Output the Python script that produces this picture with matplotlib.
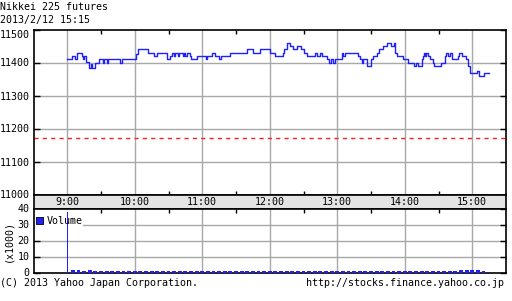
import matplotlib
matplotlib.use("Agg")
import matplotlib.pyplot as plt
from matplotlib.patches import Rectangle

# ---- data ----
title = "Nikkei 225 futures"
stamp = "2013/2/12 15:15"
# price change points: minutes after 9:00, price
price_minutes = [0, 4, 7, 9, 13, 14, 15, 17, 19, 21, 22, 25, 28, 32, 33, 35, 36, 47, 49,
                 61, 63, 72, 77, 80, 89, 91, 93, 95, 96, 98, 99, 103, 104, 105, 106, 109, 110,
                 115, 123, 124, 129, 131, 135, 137, 145, 160, 165, 171, 180, 185,
                 192, 193, 195, 198, 201, 204, 208, 210, 213, 220, 222, 225, 226, 231, 233, 234,
                 236, 238, 244, 245, 247, 258, 260, 262, 263, 266, 270, 272, 275, 277, 281, 284,
                 288, 290, 291, 293, 298, 303, 308, 310, 312, 315, 316, 317, 318, 319, 321, 322,
                 325, 326, 332, 336, 337, 338, 340, 342, 347, 348, 351, 354, 356, 358, 364, 366,
                 370, 375]
prices = [11412, 11420, 11412, 11428, 11420, 11412, 11420, 11402, 11382, 11395, 11382, 11397,
          11410, 11398, 11410, 11398, 11410, 11398, 11410,
          11425, 11440, 11428, 11420, 11428, 11412, 11420, 11428, 11420, 11428, 11420, 11428,
          11420, 11428, 11420, 11428, 11420, 11410,
          11420, 11410, 11420, 11428, 11420, 11410, 11420, 11428, 11441, 11428, 11441, 11428, 11420,
          11429, 11441, 11459, 11450, 11441, 11450, 11441, 11429, 11420, 11429, 11420, 11429,
          11420, 11410, 11400, 11410,
          11400, 11410, 11429, 11420, 11429, 11420, 11410, 11400, 11410, 11390, 11410, 11420,
          11429, 11441, 11450, 11459,
          11450, 11459, 11429, 11420, 11410, 11400, 11390, 11400, 11390, 11410, 11420, 11429,
          11420, 11429, 11420, 11410,
          11400, 11390, 11400, 11420, 11429, 11420, 11429, 11410, 11420, 11429, 11420, 11410,
          11390, 11367, 11375, 11360,
          11367, 11367]
prev_close = 11170
# volume (x1000): opening plus 5-minute buckets
open_volume = 38
vol_minutes = [5, 10, 15, 20, 25, 30, 35, 40, 45, 50, 55, 60, 65, 70, 75, 80, 85, 90, 95, 100,
               105, 110, 115, 120, 125, 130, 135, 140, 145, 150, 155, 160, 165, 170, 175, 180,
               185, 190, 195, 200, 205, 210, 215, 220, 225, 230, 235, 240, 245, 250, 255, 260,
               265, 270, 275, 280, 285, 290, 295, 300, 305, 310, 315, 320, 325, 330, 335, 340,
               345, 350, 355, 360, 365, 370]
volumes = [1.4, 1.3, 1.2, 1.3, 1.1, 1.2, 1.1, 1.0, 1.1, 1.0, 1.1, 1.2, 1.1, 1.0, 1.0, 1.1,
           1.0, 0.9, 1.0, 1.0, 0.9, 1.0, 0.9, 1.0, 0.9, 0.9, 1.0, 0.9, 1.0, 0.9, 1.0, 1.0,
           0.9, 1.0, 0.9, 1.0, 1.0, 1.1, 1.0, 1.0, 0.9, 1.0, 0.9, 1.0, 1.0, 0.9, 1.0, 1.0,
           0.9, 1.0, 1.0, 0.9, 1.0, 1.0, 1.1, 1.0, 1.0, 1.1, 1.0, 1.0, 1.1, 1.0, 1.1, 1.1,
           1.0, 1.1, 1.2, 1.1, 1.2, 1.3, 1.3, 1.4, 1.3, 1.2]
hour_labels = ["9:00", "10:00", "11:00", "12:00", "13:00", "14:00", "15:00"]
hour_minutes = [0, 60, 120, 180, 240, 300, 360]
price_ticks = [11000, 11100, 11200, 11300, 11400, 11500]
vol_ticks = [0, 10, 20, 30, 40]

# ---- style ----
W, H = 512, 301
FONT = "DejaVu Sans Mono"
FS = 7.2
BLUE = "#1f1fff"
GRID = "#a8a8a8"
XMIN, XMAX = -30, 390

fig = plt.figure(figsize=(W / 100, H / 100), dpi=100)

def fx(px):
    return px / W

def fy(py):
    return 1 - py / H

L, R = 33.5, 506
ax = fig.add_axes([fx(L), fy(194.5), fx(R - L), (194.5 - 29.5) / H])
strip = fig.add_axes([fx(L), fy(208.5), fx(R - L), 14 / H])
axv = fig.add_axes([fx(L), fy(272.5), fx(R - L), (272.5 - 208.5) / H])

half_hours = [m + 30 for m in range(-60, 390, 60) if XMIN < m + 30 < XMAX]

# price panel
ax.set_xlim(XMIN, XMAX)
ax.set_ylim(11000, 11500)
for m in hour_minutes:
    ax.axvline(m, color=GRID, lw=1.0, zorder=1)
for p in price_ticks[1:-1]:
    ax.axhline(p, color=GRID, lw=1.0, zorder=1)
ax.axhline(prev_close, color="#ff2020", lw=1.0, ls=(0, (3, 3)), zorder=2)
ax.step(price_minutes, prices, where="post", color=BLUE, lw=1.0, zorder=3)
ax.set_yticks(price_ticks)
ax.set_yticklabels([str(p) for p in price_ticks], fontfamily=FONT, fontsize=FS)
ax.set_xticks(half_hours)
ax.set_xticklabels([])
ax.tick_params(axis="x", which="both", direction="in", length=3, width=1, top=True, bottom=True)
ax.tick_params(axis="y", direction="in", length=4, width=1, left=True, right=True, pad=3)
ax.get_yticklabels()[-1].set_va("top")

# time strip
strip.set_xlim(XMIN, XMAX)
strip.set_ylim(0, 1)
strip.set_facecolor("#e4e4e4")
strip.set_xticks([])
strip.set_yticks([])
for m, lab in zip(hour_minutes, hour_labels):
    strip.text(m, 0.45, lab, ha="center", va="center", fontfamily=FONT, fontsize=FS)

# volume panel
axv.set_xlim(XMIN, XMAX)
axv.set_ylim(0, 40)
for m in hour_minutes[1:]:
    axv.axvline(m, color=GRID, lw=1.0, zorder=1)
for v in vol_ticks[1:-1]:
    axv.axhline(v, color=GRID, lw=1.0, zorder=1)
axv.add_patch(Rectangle((0.0, 0.7), 0.105, 0.3, transform=axv.transAxes,
                        facecolor="white", edgecolor="none", zorder=2))
axv.bar(vol_minutes, volumes, width=3.5, color=BLUE, zorder=4)
axv.bar([0], [open_volume], width=0.9, color=BLUE, zorder=4)
axv.set_yticks(vol_ticks)
axv.set_yticklabels([str(v) for v in vol_ticks], fontfamily=FONT, fontsize=FS)
axv.set_xticks(half_hours)
axv.set_xticklabels([])
axv.tick_params(axis="x", direction="in", length=3, width=1, top=True, bottom=False)
axv.tick_params(axis="y", direction="in", length=4, width=1, left=True, right=True, pad=3)
axv.add_patch(Rectangle((0.006, 0.755), 0.014, 0.11, transform=axv.transAxes,
                        facecolor="#2020ff", edgecolor="black", lw=0.6, zorder=5))
axv.text(0.028, 0.80, "Volume", transform=axv.transAxes, ha="left", va="center",
         fontfamily=FONT, fontsize=FS, zorder=5)

for a in (ax, strip, axv):
    for s in a.spines.values():
        s.set_color("black")
        s.set_linewidth(1.2)

# texts
fig.text(fx(0), fy(7), title, ha="left", va="center", fontfamily=FONT, fontsize=FS)
fig.text(fx(0), fy(19.5), stamp, ha="left", va="center", fontfamily=FONT, fontsize=FS)
fig.text(fx(8), fy(241), "(x1000)", rotation=90, ha="center", va="center",
         fontfamily=FONT, fontsize=FS)
fig.text(fx(0), fy(283), "(C) 2013 Yahoo Japan Corporation.", ha="left", va="center",
         fontfamily=FONT, fontsize=FS)
fig.text(fx(504), fy(283), "http://stocks.finance.yahoo.co.jp", ha="right", va="center",
         fontfamily=FONT, fontsize=FS)

fig.savefig("out.png", dpi=100, facecolor="white")
